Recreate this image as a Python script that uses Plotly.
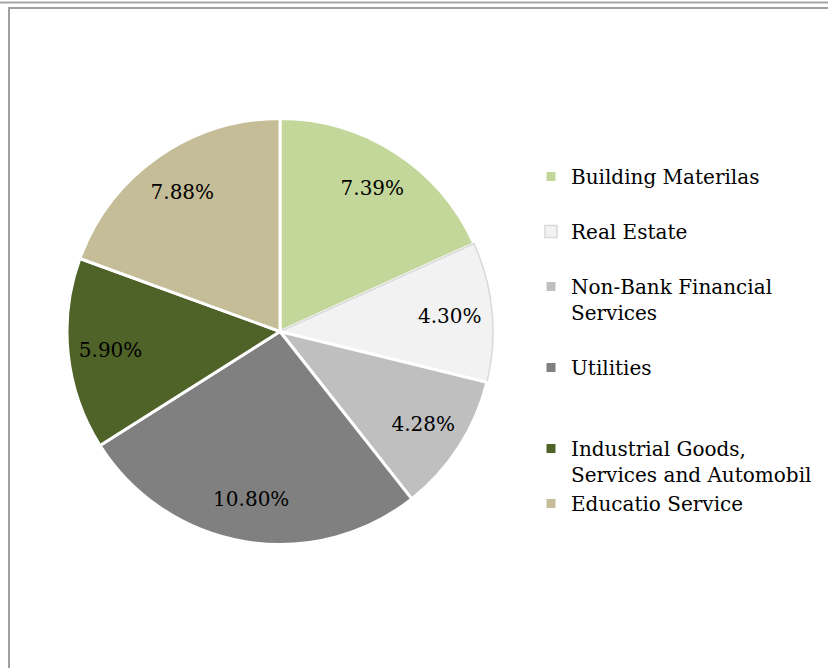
import plotly.graph_objects as go

labels = ["Building Materilas<br> ", "Real Estate<br> ", "Non-Bank Financial<br>Services<br> ",
          "Utilities<br> <br> ", "Industrial Goods,<br>Services and Automobil", "Educatio Service"]
values = [7.39, 4.30, 4.28, 10.80, 5.90, 7.88]
colors = ["#c4d79b", "#f2f2f2", "#bfbfbf", "#808080", "#4f6228", "#c4bd97"]
line_colors = ["#ffffff", "#d9d9d9", "#ffffff", "#ffffff", "#ffffff", "#ffffff"]
line_widths = [3, 1.5, 3, 3, 3, 3]

W, H = 828, 668
FONT = "DejaVu Serif"
DOMAIN = dict(x=[67 / W, 493 / W], y=[1 - 545 / H, 1 - 118 / H])

fig = go.Figure()
fig.add_trace(go.Pie(
    labels=labels,
    values=values,
    sort=False,
    direction="clockwise",
    rotation=0,
    marker=dict(colors=colors, line=dict(color=line_colors, width=line_widths)),
    textinfo="none",
    domain=DOMAIN,
    hoverinfo="skip",
))
# transparent ring that carries the value labels at ~0.8 radius
fig.add_trace(go.Pie(
    labels=labels,
    values=values,
    sort=False,
    direction="clockwise",
    rotation=0,
    hole=0.6,
    showlegend=False,
    marker=dict(colors=["rgba(0,0,0,0)"] * len(values), line=dict(width=0)),
    texttemplate="%{value:.2f}%",
    textposition="inside",
    insidetextorientation="horizontal",
    textfont=dict(family=FONT, size=20, color="#000000"),
    domain=DOMAIN,
    hovertemplate="%{value:.2f}%<extra></extra>",
))

fig.update_layout(
    width=W, height=H,
    margin=dict(l=0, r=0, t=0, b=0),
    paper_bgcolor="#ffffff",
    font=dict(family=FONT, size=20, color="#000000"),
    showlegend=True,
    legend=dict(x=531 / W, y=1 - 157 / H, xanchor="left", yanchor="top",
                valign="top", font=dict(family=FONT, size=20, color="#000000"),
                bgcolor="rgba(0,0,0,0)"),
    shapes=[
        dict(type="line", xref="paper", yref="paper", x0=0, x1=1.05,
             y0=1 - 2.5 / H, y1=1 - 2.5 / H, line=dict(color="#a6a6a6", width=2)),
        dict(type="rect", xref="paper", yref="paper", x0=9 / W, x1=1.05,
             y0=-0.05, y1=1 - 8 / H, line=dict(color="#a0a0a0", width=2)),
    ],
)

fig.write_html("out.html", config={"displayModeBar": False},
               post_script="document.body.style.margin='0px';")
